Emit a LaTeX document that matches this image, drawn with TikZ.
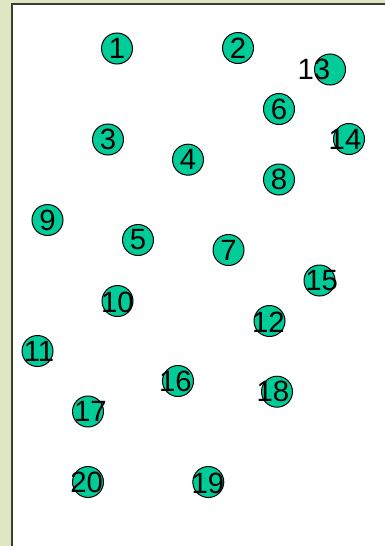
\documentclass[tikz,border=0pt]{standalone}
\usepackage{fontspec}
\setmainfont{Liberation Sans}
\definecolor{bgpaper}{HTML}{DFE6C3}
\definecolor{nodegreen}{HTML}{00CC99}
\definecolor{frameline}{HTML}{3C3F30}
\begin{document}
\begin{tikzpicture}[x=0.75pt,y=-0.75pt,
  dot/.style={circle,draw=black,line width=0.75pt,fill=nodegreen,minimum size=23.25pt,inner sep=0pt},
  num/.style={inner sep=0pt,font=\fontsize{22pt}{22pt}\selectfont}]
\useasboundingbox (0,0) rectangle (385,546);
\fill[bgpaper] (0,0) rectangle (385,546);
\filldraw[fill=white,draw=frameline,line width=1.3pt] (12,4) rectangle (392,560);
% circles
\node[dot] (c1) at (117,48.5) {};
\node[dot] (c2) at (238,48) {};
\node[dot] (c13) at (330,69.5) {};
\node[dot] (c6) at (279,109) {};
\node[dot] (c14) at (349,139) {};
\node[dot] (c3) at (108,139.5) {};
\node[dot] (c4) at (188,159.7) {};
\node[dot] (c8) at (279,179.5) {};
\node[dot] (c9) at (47.5,220) {};
\node[dot] (c5) at (138,240) {};
\node[dot] (c7) at (228.5,250) {};
\node[dot] (c15) at (319.5,280.5) {};
\node[dot] (c10) at (117.5,301) {};
\node[dot] (c12) at (269.5,321) {};
\node[dot] (c11) at (37.5,351) {};
\node[dot] (c16) at (178,381) {};
\node[dot] (c18) at (277,391.7) {};
\node[dot] (c17) at (88,411.5) {};
\node[dot] (c20) at (88,482) {};
\node[dot] (c19) at (208.3,482) {};
% labels
\node[num] (t1) at (117,48.5) {1};
\node[num] (t2) at (238,48) {2};
\node[num] (t13) at (314,69.5) {13};
\node[num] (t6) at (279,109) {6};
\node[num] (t14) at (345,139) {14};
\node[num] (t3) at (108,139.5) {3};
\node[num] (t4) at (188,159.7) {4};
\node[num] (t8) at (279,179.5) {8};
\node[num] (t9) at (47.5,220) {9};
\node[num] (t5) at (138,240) {5};
\node[num] (t7) at (228.5,250) {7};
\node[num] (t15) at (321.7,281) {15};
\node[num] (t10) at (117.5,302) {10};
\node[num] (t12) at (268.5,322) {12};
\node[num] (t11) at (39,351) {11};
\node[num] (t16) at (175.5,381) {16};
\node[num] (t18) at (273,391.7) {18};
\node[num] (t17) at (90.5,411.5) {17};
\node[num] (t20) at (86.7,482.5) {20};
\node[num] (t19) at (208,483) {19};
\end{tikzpicture}
\end{document}
